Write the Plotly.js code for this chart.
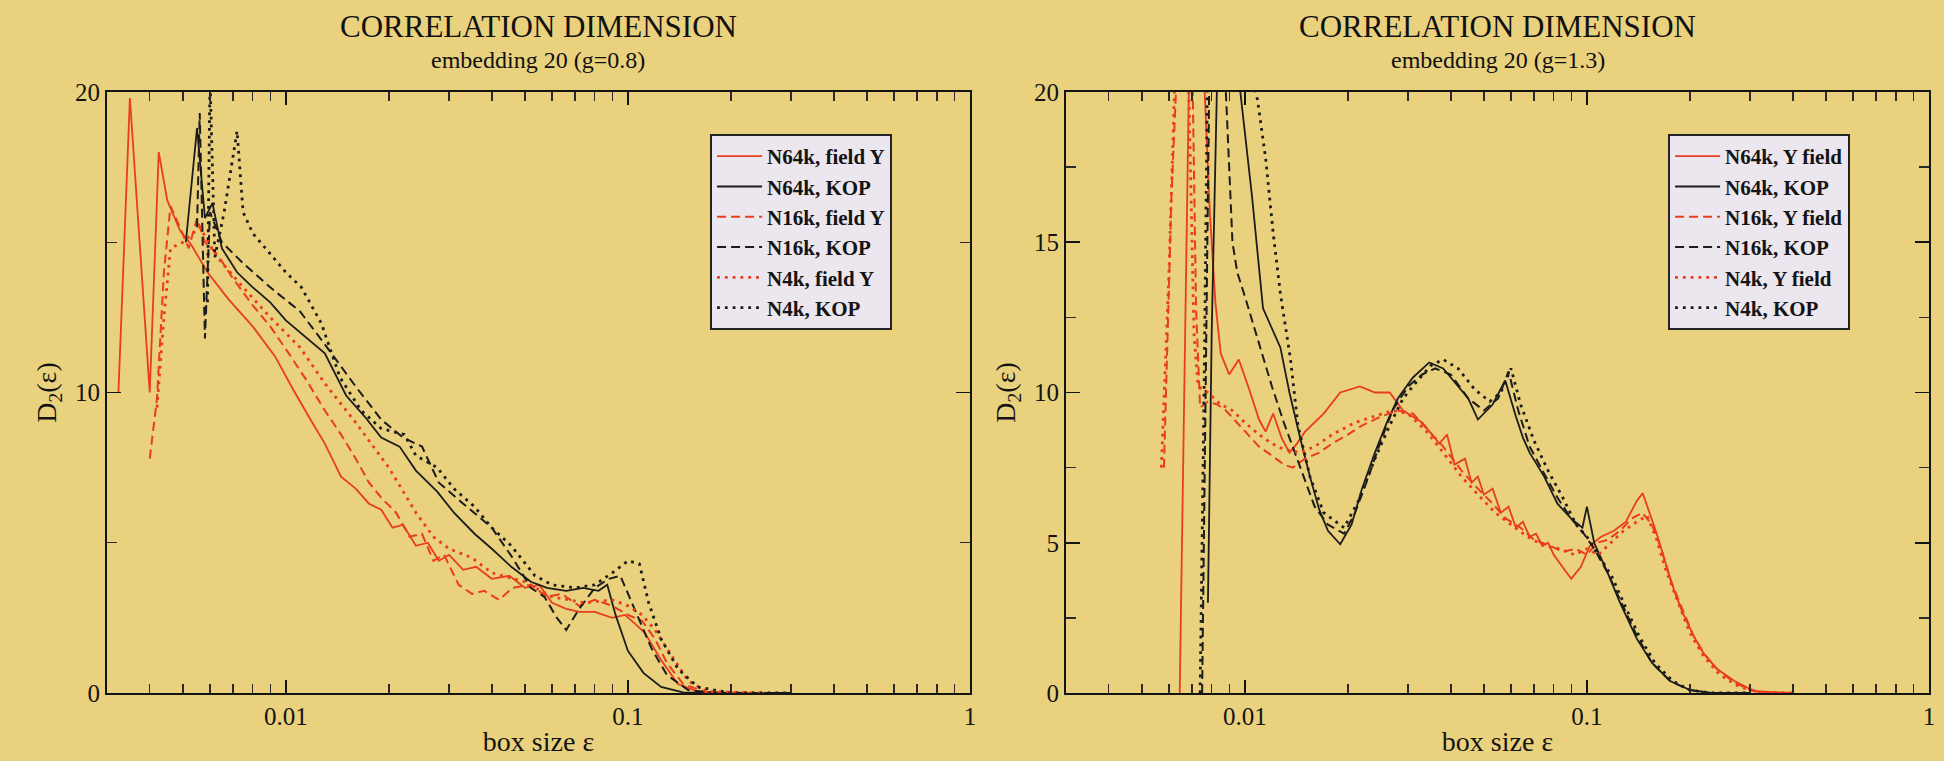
<!DOCTYPE html>
<html>
<head>
<meta charset="utf-8">
<script src="https://cdn.plot.ly/plotly-3.0.1.min.js"></script>
<style>
  html, body { margin: 0; padding: 0; background: #e9d17e; }
  #chart { width: 1944px; height: 761px; }
</style>
</head>
<body>
<div id="chart"></div>
<script>
// ---------- tick labels ----------
const xTickVals = [0.01, 0.1, 1];
const xTickText = ['0.01', '0.1', '1'];
const xMinorVals = [0.004, 0.005, 0.006, 0.007, 0.008, 0.009, 0.02, 0.03, 0.04, 0.05, 0.06, 0.07, 0.08, 0.09, 0.2, 0.3, 0.4, 0.5, 0.6, 0.7, 0.8, 0.9];
const yTickValsLeft = [0, 10, 20];
const yMinorLeft = [5, 15];
const yTickValsRight = [0, 5, 10, 15, 20];
const yMinorRight = [2.5, 7.5, 12.5, 17.5];

// ---------- series names ----------
const namesLeft = ['N64k, field Y', 'N64k, KOP', 'N16k, field Y', 'N16k, KOP', 'N4k, field Y', 'N4k, KOP'];
const namesRight = ['N64k, Y field', 'N64k, KOP', 'N16k, Y field', 'N16k, KOP', 'N4k, Y field', 'N4k, KOP'];

// ---------- LEFT panel (g=0.8) ----------
const L64Y_x = [0.00324,0.0035,0.0040,0.00425,0.0045,0.0049,0.0053,0.0059,0.0068,0.0080,0.0093,0.0105,0.0118,0.0130,0.0145,0.0160,0.0175,0.0190,0.0205,0.0220,0.0240,0.0260,0.0280,0.0300,0.0330,0.0360,0.0400,0.0450,0.0500,0.0550,0.0600,0.0660,0.0720,0.0800,0.0900,0.0980,0.1050,0.1120,0.1250,0.1400,0.1600,0.2000,0.3000];
const L64Y_y = [10,19.8,10,18,16.4,15.4,14.9,14.0,13.1,12.2,11.2,10.1,9.1,8.3,7.2,6.8,6.3,6.1,5.5,5.6,4.9,5.0,4.4,4.6,4.1,4.2,3.8,3.9,3.5,3.6,3.0,2.8,2.7,2.7,2.5,2.6,2.3,2.0,1.1,0.3,0.05,0,0];

const L64K_x = [0.0051,0.0055,0.0058,0.0061,0.0065,0.0072,0.0080,0.0090,0.0100,0.0115,0.0130,0.0150,0.0170,0.0190,0.0215,0.0240,0.0277,0.0310,0.0356,0.0400,0.0456,0.0520,0.0580,0.0660,0.0740,0.0820,0.0870,0.0920,0.1000,0.1110,0.1250,0.1450,0.2000,0.3000];
const L64K_y = [15.0,18.8,15.8,16.3,14.8,14.0,13.5,13.0,12.4,11.8,11.3,9.9,9.2,8.5,8.2,7.4,6.7,6.0,5.3,4.8,4.2,3.7,3.5,3.4,3.5,3.4,3.6,2.6,1.4,0.67,0.2,0.02,0,0];

const L16Y_x = [0.0040,0.0042,0.0044,0.0046,0.0049,0.0052,0.0055,0.0058,0.0063,0.0070,0.0080,0.0090,0.0102,0.0115,0.0130,0.0145,0.0160,0.0175,0.0190,0.0210,0.0230,0.0250,0.0270,0.0290,0.0320,0.0350,0.0380,0.0420,0.0460,0.0520,0.0580,0.0640,0.0720,0.0800,0.0900,0.1000,0.1100,0.1200,0.1300,0.1450,0.1700,0.2500];
const L16Y_y = [7.8,9.8,14.0,16.2,15.5,14.8,15.8,15.0,14.6,13.8,12.9,12.2,11.3,10.4,9.4,8.6,7.8,7.0,6.5,6.0,5.2,5.3,4.4,4.6,3.6,3.3,3.4,3.1,3.5,3.6,3.2,3.3,2.9,3.1,2.9,2.6,2.4,1.8,1.0,0.3,0.02,0];

const L16K_x = [0.0055,0.0056,0.0058,0.0060,0.0065,0.0075,0.0090,0.0110,0.0130,0.0160,0.0190,0.0220,0.0250,0.0280,0.0330,0.0400,0.0460,0.0520,0.0570,0.0620,0.0660,0.0720,0.0800,0.0880,0.0950,0.1000,0.1080,0.1170,0.1300,0.1500,0.1800,0.3000];
const L16K_y = [15.5,19.3,11.8,16.0,15.0,14.3,13.5,12.7,11.6,10.2,9.1,8.5,8.2,7.0,6.3,5.5,4.5,3.5,3.2,2.5,2.1,2.8,3.5,3.8,3.9,3.3,2.4,1.5,0.6,0.1,0,0];

const L4Y_x = [0.0042,0.0044,0.0046,0.0050,0.0056,0.0063,0.0075,0.0090,0.0110,0.0130,0.0160,0.0200,0.0240,0.0270,0.0300,0.0350,0.0400,0.0500,0.0600,0.0750,0.0900,0.1000,0.1100,0.1200,0.1350,0.1500,0.1700,0.2500];
const L4Y_y = [9.5,12.5,14.8,15.0,15.5,14.5,13.5,12.5,11.5,10.3,9.0,7.5,6.0,5.2,4.8,4.5,4.0,3.7,3.2,3.0,3.1,2.9,2.6,2.1,1.2,0.4,0.05,0];

const L4K_x = [0.0059,0.0060,0.0062,0.0066,0.0072,0.0075,0.0080,0.0090,0.0100,0.0111,0.0127,0.0144,0.0166,0.0190,0.0222,0.0240,0.0277,0.0310,0.0356,0.0400,0.0456,0.0535,0.0600,0.0700,0.0800,0.0900,0.1000,0.1080,0.1150,0.1250,0.1400,0.1600,0.2000,0.3000];
const L4K_y = [13.0,20.5,14.5,16.0,18.7,16.0,15.3,14.6,14.0,13.5,12.3,10.5,9.4,8.8,8.6,7.9,7.5,6.8,6.2,5.5,4.9,3.9,3.6,3.5,3.6,4.0,4.4,4.3,3.0,1.8,0.8,0.2,0,0];

// ---------- RIGHT panel (g=1.3) ----------
const R64Y_x = [0.00645,0.0067,0.0069,0.0075,0.0079,0.0082,0.0085,0.0090,0.0096,0.0103,0.0110,0.0115,0.0121,0.0128,0.0135,0.0142,0.0150,0.0170,0.0190,0.0217,0.0240,0.0265,0.0290,0.0330,0.0370,0.0390,0.0410,0.0440,0.0460,0.0480,0.0500,0.0530,0.0560,0.0590,0.0620,0.0650,0.0680,0.0710,0.0740,0.0770,0.0800,0.0860,0.0900,0.0960,0.1020,0.1100,0.1200,0.1300,0.1400,0.1456,0.1520,0.1600,0.1700,0.1800,0.1900,0.2050,0.2200,0.2400,0.2700,0.3100,0.4000];
const R64Y_y = [0,12,22,22,16,13,11.3,10.6,11.1,10.1,9.1,8.7,9.3,8.5,8.0,8.3,8.7,9.3,10.0,10.2,10.0,10.0,9.4,9.0,8.3,8.6,7.6,7.8,7.0,7.2,6.6,6.8,6.0,6.2,5.5,5.7,5.2,5.3,4.9,5.0,4.6,4.1,3.8,4.2,4.9,5.2,5.4,5.7,6.4,6.65,6.0,5.3,4.3,3.4,2.7,1.9,1.3,0.8,0.4,0.05,0];

const R64K_x = [0.0078,0.0080,0.0083,0.0086,0.0092,0.0097,0.0105,0.0113,0.0127,0.0135,0.0145,0.0155,0.0165,0.0175,0.0190,0.0205,0.0220,0.0240,0.0260,0.0280,0.0310,0.0346,0.0380,0.0420,0.0450,0.0480,0.0530,0.0577,0.0620,0.0650,0.0680,0.0750,0.0820,0.0900,0.0970,0.1000,0.1050,0.1150,0.1250,0.1400,0.1550,0.1750,0.2000,0.2300,0.3000];
const R64K_y = [3.0,12,20.5,22,22,20,16.5,12.8,11.5,10,8.5,7.2,6.1,5.4,4.95,5.6,6.8,8.0,9.0,9.8,10.5,11.0,10.8,10.2,9.8,9.1,9.6,10.4,9.2,8.5,8.0,7.2,6.3,5.8,5.5,6.2,5.0,4.0,3.0,1.8,1.0,0.4,0.1,0,0];

const R16Y_x = [0.0058,0.0061,0.0064,0.0070,0.0072,0.0074,0.0078,0.0083,0.0088,0.0095,0.0102,0.0110,0.0120,0.0130,0.0138,0.0150,0.0165,0.0180,0.0200,0.0220,0.0250,0.0280,0.0310,0.0340,0.0380,0.0430,0.0480,0.0530,0.0580,0.0640,0.0700,0.0780,0.0850,0.0930,0.1000,0.1070,0.1150,0.1250,0.1350,0.1450,0.1550,0.1650,0.1750,0.1900,0.2050,0.2200,0.2400,0.2700,0.3000,0.3500];
const R16Y_y = [7.5,16.5,22,22,12.8,9.5,9.7,9.6,9.4,9.0,8.6,8.2,7.9,7.6,7.5,7.8,8.0,8.3,8.6,8.9,9.2,9.4,9.3,8.8,8.2,7.4,6.8,6.3,5.8,5.5,5.1,4.9,4.7,4.8,4.6,5.0,5.1,5.4,5.8,6.0,5.6,4.8,3.8,2.8,1.9,1.3,0.8,0.35,0.1,0];

const R16K_x = [0.0075,0.0077,0.0079,0.0082,0.0088,0.0092,0.0095,0.0100,0.0110,0.0120,0.0130,0.0140,0.0150,0.0160,0.0175,0.0195,0.0210,0.0230,0.0250,0.0270,0.0300,0.0330,0.0360,0.0400,0.0450,0.0500,0.0550,0.0590,0.0630,0.0680,0.0750,0.0820,0.0900,0.0980,0.1050,0.1150,0.1250,0.1400,0.1550,0.1750,0.2000,0.2300,0.3000];
const R16K_y = [0,12,22,22,20,15,14,13.2,11.6,10.2,9.0,8.0,7.0,6.2,5.6,5.3,6.0,7.2,8.4,9.4,10.2,10.6,10.8,10.6,9.8,9.4,9.8,10.7,9.4,8.2,7.3,6.5,5.8,5.3,4.8,4.0,3.1,1.9,1.0,0.4,0.1,0,0];

const R4Y_x = [0.0057,0.0060,0.0063,0.0068,0.0071,0.0073,0.0078,0.0085,0.0092,0.0100,0.0110,0.0120,0.0130,0.0145,0.0160,0.0180,0.0210,0.0240,0.0270,0.0300,0.0340,0.0380,0.0430,0.0480,0.0540,0.0600,0.0670,0.0750,0.0830,0.0920,0.1000,0.1080,0.1180,0.1280,0.1400,0.1500,0.1600,0.1700,0.1850,0.2000,0.2200,0.2450,0.2800,0.3200,0.4000];
const R4Y_y = [7.5,14,22,22,12,10.2,10.0,9.6,9.4,9.0,8.6,8.3,8.1,8.0,8.2,8.6,9.0,9.2,9.4,9.3,8.7,8.0,7.2,6.6,6.0,5.6,5.2,4.9,4.8,4.6,4.8,4.6,5.0,5.4,5.7,5.9,5.1,4.1,3.0,2.0,1.2,0.6,0.2,0.03,0];

const R4K_x = [0.0074,0.0076,0.0078,0.0090,0.0100,0.0109,0.0115,0.0121,0.0127,0.0136,0.0143,0.0155,0.0170,0.0195,0.0215,0.0240,0.0265,0.0290,0.0320,0.0350,0.0380,0.0420,0.0470,0.0520,0.0560,0.0600,0.0640,0.0700,0.0770,0.0850,0.0930,0.1000,0.1080,0.1180,0.1280,0.1420,0.1580,0.1780,0.2000,0.2300,0.3000];
const R4K_y = [0,10,22,22,22,19.7,17.8,15.3,13.3,11.1,8.9,7.2,6.0,5.5,6.4,7.8,8.9,9.8,10.4,10.9,11.1,10.8,10.1,9.7,10.0,10.8,9.6,8.4,7.4,6.5,5.6,5.2,4.6,3.9,3.0,1.9,1.0,0.4,0.1,0,0];

// ---------- styling ----------
const BG = '#e9d17e';
const RED = '#ea3c1e';
const BLACK = '#1c1c1c';
const INK = '#141414';
const FONT = 'Liberation Serif, Times New Roman, serif';
const styles = [
  {color: RED,   dash: 'solid',      width: 1.8},
  {color: BLACK, dash: 'solid',      width: 1.8},
  {color: RED,   dash: '9px,5px',    width: 2.0},
  {color: BLACK, dash: '9px,5px',    width: 2.0},
  {color: RED,   dash: '2.8px,5px',  width: 2.8},
  {color: BLACK, dash: '2.8px,5px',  width: 2.8}
];

function trace(x, y, name, st, xa, ya, leg) {
  return {type: 'scatter', mode: 'lines', x: x, y: y, name: name,
          xaxis: xa, yaxis: ya, legend: leg, hoverinfo: 'skip',
          line: {color: st.color, dash: st.dash, width: st.width}};
}

const leftSeries = [[L64Y_x, L64Y_y], [L64K_x, L64K_y], [L16Y_x, L16Y_y], [L16K_x, L16K_y], [L4Y_x, L4Y_y], [L4K_x, L4K_y]];
const rightSeries = [[R64Y_x, R64Y_y], [R64K_x, R64K_y], [R16Y_x, R16Y_y], [R16K_x, R16K_y], [R4Y_x, R4Y_y], [R4K_x, R4K_y]];

const data = [];
leftSeries.forEach((s, i) => data.push(trace(s[0], s[1], namesLeft[i], styles[i], 'x', 'y', 'legend')));
rightSeries.forEach((s, i) => data.push(trace(s[0], s[1], namesRight[i], styles[i], 'x2', 'y2', 'legend2')));

function xAxis(domain, anchor) {
  return {
    type: 'log', range: [Math.log10(0.003), 0], domain: domain, anchor: anchor,
    showline: true, linecolor: INK, linewidth: 2, mirror: 'ticks',
    ticks: 'inside', ticklen: 13, tickwidth: 1.8, tickcolor: INK,
    tickmode: 'array', tickvals: xTickVals, ticktext: xTickText,
    minor: {tickmode: 'array', tickvals: xMinorVals, ticks: 'inside', ticklen: 9, tickwidth: 1.4, tickcolor: '#2a2a2a', showgrid: false},
    showgrid: false, zeroline: false, fixedrange: true,
    tickfont: {family: FONT, size: 25, color: INK},
    title: {text: 'box size \u03b5', font: {family: FONT, size: 28, color: INK}, standoff: 2}
  };
}
function yAxis(domain, anchor, vals, minorVals) {
  return {
    range: [0, 20], domain: domain, anchor: anchor,
    showline: true, linecolor: INK, linewidth: 2, mirror: 'ticks',
    ticks: 'inside', ticklen: 14, tickwidth: 1.8, tickcolor: INK,
    tickmode: 'array', tickvals: vals, ticktext: vals.map(String),
    minor: {tickmode: 'array', tickvals: minorVals, ticks: 'inside', ticklen: 10, tickwidth: 1.4, tickcolor: '#2a2a2a', showgrid: false},
    showgrid: false, zeroline: false, fixedrange: true,
    tickfont: {family: FONT, size: 25, color: INK},
    title: {text: 'D<sub>2</sub>(\u03b5)', font: {family: FONT, size: 28, color: INK}, standoff: 10}
  };
}

const legendStyle = {
  bgcolor: '#ece6ee', bordercolor: '#222', borderwidth: 2,
  font: {family: FONT, size: 21, color: INK, weight: 'bold'},
  xanchor: 'left', yanchor: 'top', tracegroupgap: 0, itemwidth: 45
};

const layout = {
  width: 1944, height: 761,
  paper_bgcolor: BG, plot_bgcolor: BG,
  margin: {l: 107, r: 15, t: 92, b: 68},
  showlegend: true,
  xaxis: xAxis([0, 0.47366], 'y'),
  yaxis: yAxis([0, 1], 'x', yTickValsLeft, yMinorLeft),
  xaxis2: xAxis([0.52634, 1], 'y2'),
  yaxis2: yAxis([0, 1], 'x2', yTickValsRight, yMinorRight),
  legend: Object.assign({x: 0.331, y: 0.93}, legendStyle),
  legend2: Object.assign({x: 0.8568, y: 0.93}, legendStyle),
  annotations: [
    {text: 'CORRELATION DIMENSION', xref: 'paper', yref: 'paper', x: 0.2366, y: 1.1098, xanchor: 'center', yanchor: 'middle', showarrow: false, font: {family: FONT, size: 31, color: '#111'}},
    {text: 'embedding 20 (g=0.8)', xref: 'paper', yref: 'paper', x: 0.2366, y: 1.0532, xanchor: 'center', yanchor: 'middle', showarrow: false, font: {family: FONT, size: 24, color: '#111'}},
    {text: 'CORRELATION DIMENSION', xref: 'paper', yref: 'paper', x: 0.7632, y: 1.1098, xanchor: 'center', yanchor: 'middle', showarrow: false, font: {family: FONT, size: 31, color: '#111'}},
    {text: 'embedding 20 (g=1.3)', xref: 'paper', yref: 'paper', x: 0.7632, y: 1.0532, xanchor: 'center', yanchor: 'middle', showarrow: false, font: {family: FONT, size: 24, color: '#111'}}
  ]
};

Plotly.newPlot('chart', data, layout, {displayModeBar: false, staticPlot: true});
</script>
</body>
</html>
